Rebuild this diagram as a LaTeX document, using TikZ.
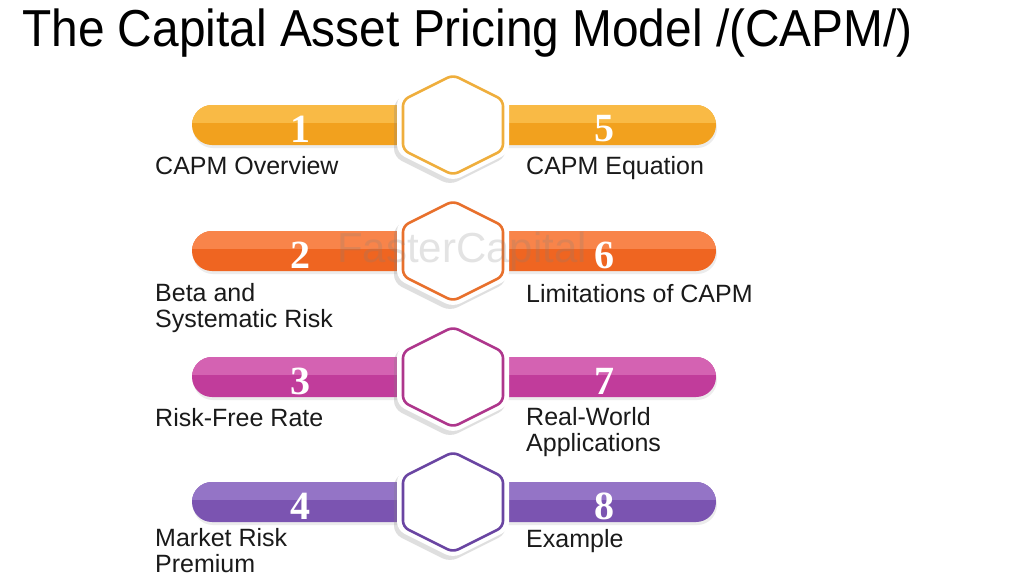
\documentclass[tikz,border=0pt]{standalone}
\usepackage{fontspec}
\setmainfont{Liberation Sans}
\newfontfamily\numfont{Liberation Serif}
\newfontfamily\titlefont[FakeStretch=0.92]{Liberation Sans}
\definecolor{yA}{HTML}{F9BA45}\definecolor{yB}{HTML}{F2A11E}\definecolor{yH}{HTML}{EFAE3C}
\definecolor{oA}{HTML}{F8844A}\definecolor{oB}{HTML}{EF6521}\definecolor{oH}{HTML}{E8702C}
\definecolor{mA}{HTML}{D462B2}\definecolor{mB}{HTML}{C13C9B}\definecolor{mH}{HTML}{AE368C}
\definecolor{pA}{HTML}{9474C6}\definecolor{pB}{HTML}{7B54B1}\definecolor{pH}{HTML}{6A45A2}
\definecolor{txt}{HTML}{1A1A1A}
\tikzset{
  lbl/.style={anchor=base west, inner sep=0pt, align=left, text=txt,
    font=\fontsize{25}{25.5}\selectfont},
  num/.style={inner sep=0pt, text=white, font=\numfont\bfseries\fontsize{40}{40}\selectfont},
  ttl/.style={anchor=base west, inner sep=0pt, text=black,
    font=\titlefont\fontsize{52}{52}\selectfont},
  wmark/.style={inner sep=0pt, text=gray, opacity=0.22, font=\fontsize{42}{42}\selectfont}
}
\begin{document}
\begin{tikzpicture}[x=1pt,y=-1pt]
\useasboundingbox (0,0) rectangle (1024,576);
\fill[white] (0,0) rectangle (1024,576);
\node[ttl] (title) at (22,46) {The Capital Asset Pricing Model /(CAPM/)};
\foreach \yy/\ca/\cb/\ch/\nl/\nr/\lt/\rt/\lo/\ro in {
  125/yA/yB/yH/1/5/{CAPM Overview}/{CAPM Equation}/174/174,
  251/oA/oB/oH/2/6/{Beta and\\Systematic Risk}/{Limitations of CAPM}/327/302,
  377/mA/mB/mH/3/7/{Risk-Free Rate}/{Real-World\\Applications}/426/451,
  502/pA/pB/pH/4/8/{Market Risk\\Premium}/{Example}/572/547}{
  % bar shadow
  \fill[gray, opacity=0.15, rounded corners=20pt] (193,\yy-17) rectangle (717,\yy+23);
  % bar
  \fill[\cb, rounded corners=20pt] (192,\yy-20) rectangle (716,\yy+20);
  \begin{scope}
    \clip[rounded corners=20pt] (192,\yy-20) rectangle (716,\yy+20);
    \fill[\ca] (180,\yy-20) rectangle (730,\yy-2);
  \end{scope}
  % hexagon shadow
  \fill[shift={(450,\yy+4)}, gray, opacity=0.25, rounded corners=8pt]
    (0,-56) -- (56,-28) -- (56,28) -- (0,56) -- (-56,28) -- (-56,-28) -- cycle;
  % white halo
  \fill[shift={(453,\yy)}, white, rounded corners=8pt]
    (0,-56) -- (56,-28) -- (56,28) -- (0,56) -- (-56,28) -- (-56,-28) -- cycle;
  % coloured outline
  \draw[shift={(453,\yy)}, \ch, line width=2.6pt, fill=white, rounded corners=6pt]
    (0,-50) -- (50,-25) -- (50,25) -- (0,50) -- (-50,25) -- (-50,-25) -- cycle;
  \node[num] (n\nl) at (300,\yy+4) {\nl};
  \node[num] (n\nr) at (604,\yy+4) {\nr};
  \node[lbl] (l\nl) at (155,\lo) {\lt};
  \node[lbl] (l\nr) at (526,\ro) {\rt};
}
\node[wmark] (wm) at (462,252) {FasterCapital};
\end{tikzpicture}
\end{document}
